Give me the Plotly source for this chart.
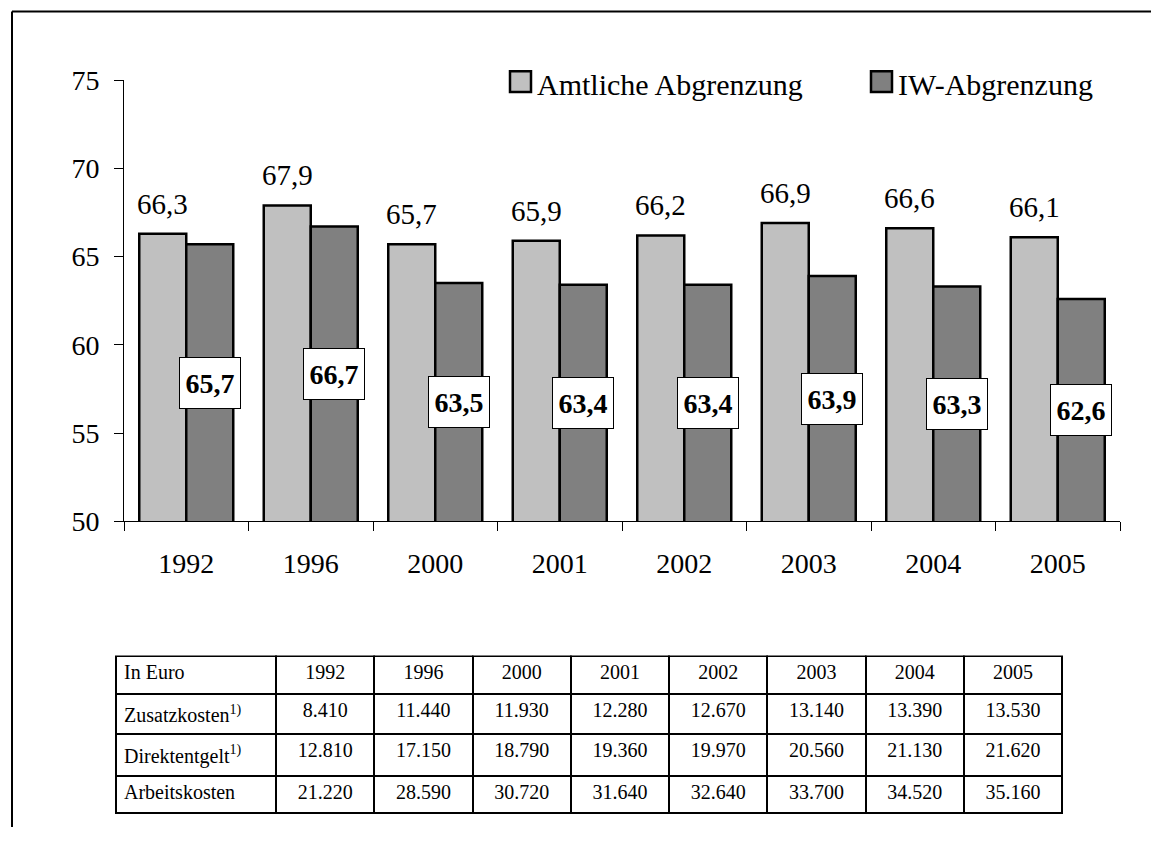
import plotly.graph_objects as go

# ---------------- data ----------------
years = ["1992", "1996", "2000", "2001", "2002", "2003", "2004", "2005"]
amtliche = [66.3, 67.9, 65.7, 65.9, 66.2, 66.9, 66.6, 66.1]
iw = [65.7, 66.7, 63.5, 63.4, 63.4, 63.9, 63.3, 62.6]
series_names = ["Amtliche Abgrenzung", "IW-Abgrenzung"]

table_header_label = "In Euro"
row_labels = ["Zusatzkosten<sup>1)</sup>", "Direktentgelt<sup>1)</sup>", "Arbeitskosten"]
zusatzkosten = [8410, 11440, 11930, 12280, 12670, 13140, 13390, 13530]
direktentgelt = [12810, 17150, 18790, 19360, 19970, 20560, 21130, 21620]
arbeitskosten = [21220, 28590, 30720, 31640, 32640, 33700, 34520, 35160]

# ---------------- layout helpers ----------------
W, H = 1151, 843
ML, MR, MT, MB = 100, 31, 40, 0
PW, PH = W - ML - MR, H - MT - MB


def px_x(p):
    return (p - ML) / PW


def px_y(p):
    return (H - MB - p) / PH


FONT = "Liberation Serif, Times New Roman, serif"
LIGHT = "#C0C0C0"
DARK = "#808080"

BARGAP = 0.245
n_cat = len(years)
axis_px = 1120 - 124
bar_px = axis_px / n_cat * (1 - BARGAP) / 2


def de(v):
    return f"{v:.1f}".replace(".", ",")


def de_int(v):
    return f"{v:,}".replace(",", ".")


fig = go.Figure()
fig.add_trace(go.Bar(x=years, y=amtliche, name=series_names[0],
                     marker=dict(color=LIGHT, line=dict(color="black", width=2.5)),
                     showlegend=False))
fig.add_trace(go.Bar(x=years, y=iw, name=series_names[1],
                     marker=dict(color=DARK, line=dict(color="black", width=2.5)),
                     showlegend=False))

annotations = []
for i, (a, b) in enumerate(zip(amtliche, iw)):
    annotations.append(dict(x=i, y=a, xref="x", yref="y", text=de(a),
                            showarrow=False, xshift=-bar_px / 2, yanchor="bottom",
                            yshift=12, font=dict(family=FONT, size=29, color="black")))
    annotations.append(dict(x=i, y=50 + (b - 50) / 2, xref="x", yref="y",
                            text="<b>" + de(b) + "</b>", showarrow=False,
                            xshift=bar_px / 2, yanchor="middle",
                            width=60, height=50, borderpad=0,
                            bgcolor="white", bordercolor="black", borderwidth=1,
                            font=dict(family=FONT, size=28, color="black")))

# manual legend (squares + text)
shapes = []
legend_items = [(series_names[0], LIGHT, 510), (series_names[1], DARK, 871)]
for name, col, x0 in legend_items:
    shapes.append(dict(type="rect", xref="paper", yref="paper",
                       x0=px_x(x0), x1=px_x(x0 + 21), y0=px_y(93), y1=px_y(72),
                       fillcolor=col, line=dict(color="black", width=2.5)))
    annotations.append(dict(x=px_x(x0 + 25), y=px_y(85), xref="paper", yref="paper",
                            text=name, showarrow=False, xanchor="left", yanchor="middle",
                            font=dict(family=FONT, size=30, color="black")))

# outer frame (left and top edges; the rest lies outside the picture)
frame_line = dict(color="black", width=2)
shapes.append(dict(type="line", xref="paper", yref="paper",
                   x0=px_x(12), x1=px_x(12), y0=px_y(H), y1=px_y(11), line=frame_line))
shapes.append(dict(type="line", xref="paper", yref="paper",
                   x0=px_x(12), x1=px_x(W), y0=px_y(11), y1=px_y(11), line=frame_line))

# table
cell_cols = [row_labels] + [[de_int(z), de_int(d), de_int(a)]
                            for z, d, a in zip(zusatzkosten, direktentgelt, arbeitskosten)]
fig.add_trace(go.Table(
    domain=dict(x=[px_x(116), px_x(1062)], y=[0.0, px_y(669)]),
    columnwidth=[160] + [98.25] * n_cat,
    header=dict(values=[table_header_label] + years,
                align=["left"] + ["center"] * n_cat,
                fill=dict(color="white"), line=dict(color="black", width=2),
                font=dict(family=FONT, size=20, color="black"), height=37.5),
    cells=dict(values=cell_cols,
               align=["left"] + ["center"] * n_cat,
               fill=dict(color="white"), line=dict(color="black", width=2),
               font=dict(family=FONT, size=20, color="black"), height=37.5),
))

fig.update_layout(
    width=W, height=H,
    margin=dict(l=ML, r=MR, t=MT, b=MB, pad=0),
    paper_bgcolor="white", plot_bgcolor="white",
    barmode="group", bargap=BARGAP, bargroupgap=0,
    font=dict(family=FONT, size=28, color="black"),
    xaxis=dict(type="category", domain=[px_x(124), 1.0], range=[-0.5, n_cat - 0.5],
               showline=True, linecolor="black",
               linewidth=1, ticks="outside", tickson="boundaries", ticklen=9,
               tickcolor="black", showgrid=False, ticklabelstandoff=17, tickangle=0,
               tickfont=dict(family=FONT, size=28)),
    yaxis=dict(domain=[px_y(531), px_y(81)], range=[50, 75], dtick=5, showline=True,
               linecolor="black", linewidth=1, ticks="outside", ticklen=9,
               tickcolor="black", showgrid=False, zeroline=False, ticklabelstandoff=9,
               tickfont=dict(family=FONT, size=28)),
    annotations=annotations, shapes=shapes, showlegend=False,
)

page_fix = (
    "var de=document.documentElement, b=document.body;"
    "de.style.margin='0'; b.style.margin='0';"
    "de.style.overflow='hidden'; b.style.overflow='hidden';"
    "de.style.height='843px'; b.style.height='843px';"
    "b.style.fontSize='0'; b.style.lineHeight='0';"
    "Array.prototype.forEach.call(b.children, function(e){"
    "if(e.tagName==='DIV'){e.style.height='843px'; e.style.width='1151px';"
    "e.style.overflow='hidden';}});"
)

fig.write_html("out.html", config={"displayModeBar": False}, post_script=page_fix)
